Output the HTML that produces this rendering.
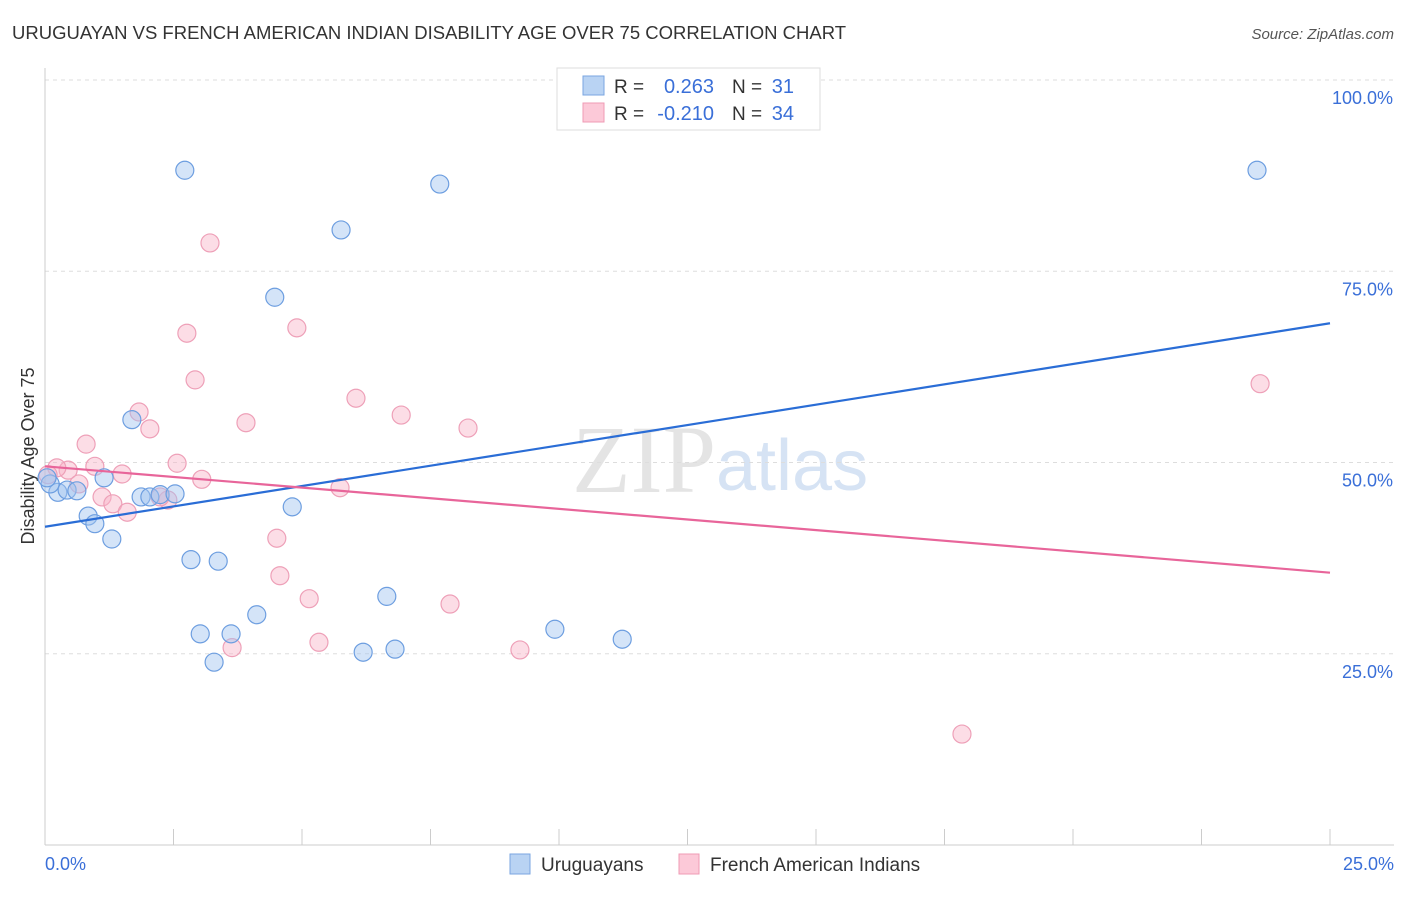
<!DOCTYPE html>
<html><head><meta charset="utf-8"><style>
body{margin:0;background:#fff;font-family:"Liberation Sans",sans-serif;}
</style></head><body>
<svg id="chart" width="1406" height="892" xmlns="http://www.w3.org/2000/svg" font-family="Liberation Sans, sans-serif">
<text x="12" y="39" font-size="18.5" fill="#333">URUGUAYAN VS FRENCH AMERICAN INDIAN DISABILITY AGE OVER 75 CORRELATION CHART</text>
<text x="1394" y="39" font-size="15" fill="#555" font-style="italic" text-anchor="end">Source: ZipAtlas.com</text>
<text x="716" y="492" font-size="96" fill="#e4e4e4" text-anchor="end" font-family="Liberation Serif, serif">ZIP</text>
<text x="716" y="490" font-size="72" fill="#d6e3f4">atlas</text>
<g id="grid"></g>
<line x1="45" y1="68" x2="45" y2="845" stroke="#ccc"/>
<line x1="45" y1="845" x2="1394" y2="845" stroke="#ccc"/>
<text x="34" y="456" font-size="18" fill="#333" text-anchor="middle" transform="rotate(-90 34 456)">Disability Age Over 75</text>
<text x="45" y="870" font-size="18" fill="#3a6fd8">0.0%</text>
<text x="1394" y="870" font-size="18" fill="#3a6fd8" text-anchor="end">25.0%</text>
<g id="pts"></g>
<g id="lines"></g>
<g>
<rect x="557" y="68" width="263" height="62" fill="#fff" stroke="#ddd"/>
<rect x="583" y="76" width="21" height="19" fill="#b9d3f3" stroke="#7aa6e0"/>
<rect x="583" y="103" width="21" height="19" fill="#fcc9d8" stroke="#ef9bb5"/>
<text x="614" y="93" font-size="19" fill="#333">R =</text>
<text x="714" y="93" font-size="20" fill="#3a6fd8" text-anchor="end">0.263</text>
<text x="732" y="93" font-size="19" fill="#333">N =</text>
<text x="794" y="93" font-size="20" fill="#3a6fd8" text-anchor="end">31</text>
<text x="614" y="120" font-size="19" fill="#333">R =</text>
<text x="714" y="120" font-size="20" fill="#3a6fd8" text-anchor="end">-0.210</text>
<text x="732" y="120" font-size="19" fill="#333">N =</text>
<text x="794" y="120" font-size="20" fill="#3a6fd8" text-anchor="end">34</text>
</g>
<g>
<rect x="510" y="854" width="20" height="20" fill="#b9d3f3" stroke="#7aa6e0"/>
<text x="541" y="871" font-size="19" fill="#333">Uruguayans</text>
<rect x="679" y="854" width="20" height="20" fill="#fcc9d8" stroke="#ef9bb5"/>
<text x="710" y="871" font-size="19" fill="#333">French American Indians</text>
</g>
</svg>
<script>
const xTicks=[0,2.5,5,7.5,10,12.5,15,17.5,20,22.5,25];
const yTicks=[25,50,75,100];
const yTickLabels=["25.0%","50.0%","75.0%","100.0%"];
const blueX=[2.72,7.68,23.58,5.76,4.47,1.69,1.15,0.25,0.43,0.62,0.84,0.97,1.30,1.87,2.04,2.24,2.53,4.81,2.84,3.37,3.02,3.62,4.12,3.29,6.65,6.19,6.81,9.92,11.23,0.10,0.04];
const blueY=[88.2,86.4,88.2,80.4,71.6,55.6,48.0,46.1,46.4,46.3,43.0,42.0,40.0,45.5,45.5,45.8,45.9,44.2,37.3,37.1,27.6,27.6,30.1,23.9,32.5,25.2,25.6,28.2,26.9,47.2,48.0];
const pinkX=[3.21,2.76,4.90,2.92,1.83,2.04,3.91,6.05,6.93,8.23,0.80,2.57,0.97,1.50,0.45,0.23,0.66,1.11,1.32,1.60,2.39,3.05,5.74,4.51,4.57,5.14,7.88,5.33,3.64,9.24,17.84,23.64,0.06,2.24];
const pinkY=[78.7,66.9,67.6,60.8,56.6,54.4,55.2,58.4,56.2,54.5,52.4,49.9,49.5,48.5,49.0,49.3,47.2,45.5,44.6,43.5,45.1,47.8,46.7,40.1,35.2,32.2,31.5,26.5,25.8,25.5,14.5,60.3,48.4,45.5];
const blueTrend=[41.6,68.2];
const pinkTrend=[49.5,35.6];
const NS="http://www.w3.org/2000/svg";
const sx=v=>45+v/25*1285;
const sy=v=>845-v/100*765;
function mk(tag,attrs,parent){const e=document.createElementNS(NS,tag);for(const k in attrs)e.setAttribute(k,attrs[k]);document.getElementById(parent).appendChild(e);return e;}
yTicks.forEach((t,i)=>{
 const l=mk('line',{x1:45,x2:1394,y1:sy(t),y2:sy(t),stroke:'#ddd','stroke-dasharray':'4,4'},'grid');
 
 
 const tx=mk('text',{x:1393,y:sy(t)+24,'font-size':18,fill:'#3a6fd8','text-anchor':'end'},'grid');
 tx.textContent=yTickLabels[i];
 
 
});
xTicks.slice(1).forEach(t=>{
 const l=mk('line',{x1:sx(t),x2:sx(t),y1:829,y2:845,stroke:'#ccc'},'grid');
 
 
});
pinkX.forEach((x,i)=>{
 const c=mk('circle',{cx:sx(x),cy:sy(pinkY[i]),r:9,fill:'rgba(248,180,200,0.45)',stroke:'#eea0b8','stroke-width':1.2},'pts');
 
 
});
blueX.forEach((x,i)=>{
 const c=mk('circle',{cx:sx(x),cy:sy(blueY[i]),r:9,fill:'rgba(160,196,240,0.45)',stroke:'#6d9ee0','stroke-width':1.2},'pts');
 
 
});
const bl=mk('line',{x1:sx(0),x2:sx(25),y1:sy(blueTrend[0]),y2:sy(blueTrend[1]),stroke:'#2a6dd6','stroke-width':2.2},'lines');


const pl=mk('line',{x1:sx(0),x2:sx(25),y1:sy(pinkTrend[0]),y2:sy(pinkTrend[1]),stroke:'#e8659a','stroke-width':2.2},'lines');


</script>
</body></html>
